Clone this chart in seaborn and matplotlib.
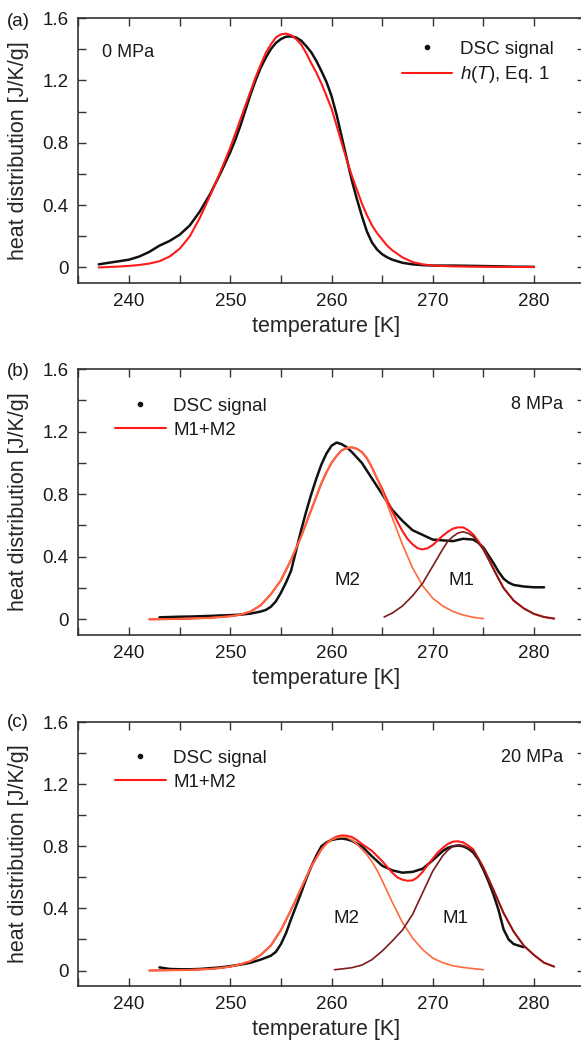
import pandas as pd
import seaborn as sns
import matplotlib.pyplot as plt
from matplotlib.lines import Line2D
from matplotlib.ticker import MultipleLocator, FuncFormatter

# ---- panel (a), 0 MPa ----
ta_dsc = [237, 238, 239, 240, 241, 242, 243, 244, 245, 246, 247, 248, 249, 249.5, 250, 250.5, 251, 251.5, 252,
          252.5, 253, 253.5, 254, 254.5, 255, 255.5, 256, 256.5, 257, 257.5, 258, 258.5, 259, 259.5, 260,
          260.5, 261, 261.5, 262, 262.5, 263, 263.5, 264, 264.5, 265, 265.5, 266, 267, 268, 269, 270, 272,
          274, 276, 278, 280]
dsc_a = [0.02, 0.03, 0.04, 0.05, 0.07, 0.10, 0.14, 0.17, 0.21, 0.27, 0.36, 0.47, 0.60, 0.67, 0.74, 0.82, 0.91,
         1.01, 1.11, 1.20, 1.28, 1.345, 1.40, 1.44, 1.465, 1.48, 1.482, 1.475, 1.455, 1.42, 1.38, 1.325, 1.26,
         1.19, 1.10, 0.98, 0.84, 0.70, 0.56, 0.44, 0.33, 0.23, 0.16, 0.115, 0.085, 0.065, 0.05, 0.03, 0.02,
         0.015, 0.012, 0.012, 0.01, 0.008, 0.005, 0.004]
ta_fit = [237, 238, 239, 240, 241, 242, 243, 244, 245, 246, 247, 248, 248.5, 249, 249.5, 250, 250.5, 251,
          251.5, 252, 252.5, 253, 253.5, 254, 254.5, 255, 255.5, 256, 256.5, 257, 257.5, 258, 258.5, 259,
          259.5, 260, 260.5, 261, 261.5, 262, 262.5, 263, 263.5, 264, 264.5, 265, 265.5, 266, 267, 268, 269,
          270, 272, 274, 276, 278, 280]
fit_a = [0.0, 0.003, 0.006, 0.01, 0.016, 0.025, 0.04, 0.07, 0.12, 0.20, 0.32, 0.46, 0.535, 0.61, 0.69, 0.77,
         0.86, 0.95, 1.04, 1.13, 1.22, 1.30, 1.375, 1.43, 1.475, 1.495, 1.50, 1.49, 1.465, 1.43, 1.375, 1.31,
         1.25, 1.18, 1.10, 1.02, 0.91, 0.80, 0.69, 0.59, 0.50, 0.41, 0.335, 0.27, 0.22, 0.18, 0.14, 0.11,
         0.065, 0.035, 0.02, 0.012, 0.007, 0.005, 0.004, 0.003, 0.003]

# ---- panel (b), 8 MPa ----
tb_dsc = [243, 244, 245, 246, 247, 248, 249, 250, 251, 252, 253, 253.5, 254, 254.5, 255, 255.5, 256, 256.5,
          257, 257.5, 258, 258.5, 259, 259.5, 260, 260.5, 261, 261.5, 262, 263, 264, 265, 266, 267, 268, 269,
          270, 271, 272, 273, 274, 274.5, 275, 275.5, 276, 276.5, 277, 277.5, 278, 279, 280, 281]
dsc_b = [0.013, 0.015, 0.017, 0.018, 0.02, 0.022, 0.025, 0.027, 0.03, 0.037, 0.05, 0.06, 0.08, 0.115, 0.17,
         0.235, 0.31, 0.44, 0.57, 0.69, 0.80, 0.90, 0.99, 1.06, 1.11, 1.13, 1.12, 1.10, 1.07, 1.00, 0.90, 0.80,
         0.70, 0.63, 0.57, 0.54, 0.51, 0.505, 0.50, 0.515, 0.51, 0.49, 0.46, 0.41, 0.36, 0.305, 0.26, 0.235,
         0.22, 0.21, 0.205, 0.205]
tb_m2 = [242, 244, 246, 248, 249, 250, 251, 252, 253, 254, 255, 256, 257, 258, 259, 259.5, 260, 260.5, 261,
         261.5, 262, 262.5, 263, 263.5, 264, 264.5, 265, 265.5, 266, 267, 268, 269, 270, 271, 272, 273, 274, 275]
m2_b = [0.0, 0.002, 0.005, 0.01, 0.015, 0.02, 0.03, 0.05, 0.09, 0.16, 0.25, 0.38, 0.53, 0.70, 0.87, 0.94, 1.00,
        1.045, 1.08, 1.095, 1.10, 1.09, 1.07, 1.03, 0.97, 0.90, 0.82, 0.735, 0.65, 0.48, 0.33, 0.215, 0.135,
        0.085, 0.05, 0.028, 0.013, 0.005]
tb_m1 = [265.2, 266, 267, 268, 269, 270, 270.5, 271, 271.5, 272, 272.5, 273, 273.5, 274, 274.5, 275, 275.5,
         276, 276.5, 277, 277.5, 278, 279, 280, 281, 282]
m1_b = [0.015, 0.04, 0.085, 0.15, 0.23, 0.34, 0.395, 0.45, 0.50, 0.53, 0.552, 0.56, 0.55, 0.53, 0.49, 0.445,
        0.385, 0.32, 0.26, 0.20, 0.16, 0.12, 0.07, 0.035, 0.015, 0.005]
tb_sum = [242, 244, 246, 248, 249, 250, 251, 252, 253, 254, 255, 256, 257, 258, 259, 259.5, 260, 260.5, 261,
          261.5, 262, 262.5, 263, 263.5, 264, 264.5, 265, 265.5, 266, 266.5, 267, 267.5, 268, 268.5, 269,
          269.5, 270, 270.5, 271, 271.5, 272, 272.5, 273, 273.5, 274, 274.5, 275, 275.5, 276, 276.5, 277,
          277.5, 278, 279, 280, 281, 282]
sum_b = [0.0, 0.002, 0.005, 0.01, 0.015, 0.02, 0.03, 0.05, 0.09, 0.16, 0.25, 0.38, 0.53, 0.70, 0.87, 0.94, 1.00,
         1.045, 1.08, 1.095, 1.10, 1.09, 1.07, 1.03, 0.97, 0.90, 0.835, 0.76, 0.69, 0.625, 0.565, 0.515, 0.48,
         0.455, 0.447, 0.455, 0.475, 0.505, 0.535, 0.56, 0.58, 0.588, 0.588, 0.57, 0.543, 0.50, 0.45, 0.39,
         0.325, 0.26, 0.20, 0.16, 0.12, 0.07, 0.035, 0.015, 0.005]

# ---- panel (c), 20 MPa ----
tc_dsc = [243, 244, 245, 246, 247, 248, 249, 250, 251, 252, 253, 254, 254.5, 255, 255.5, 256, 256.5, 257,
          257.5, 258, 258.5, 259, 259.5, 260, 260.5, 261, 261.5, 262, 263, 264, 265, 266, 267, 268, 269, 270,
          271, 271.5, 272, 272.5, 273, 273.5, 274, 274.5, 275, 275.5, 276, 276.5, 277, 277.5, 278, 278.5, 279]
dsc_c = [0.02, 0.01, 0.008, 0.008, 0.01, 0.015, 0.02, 0.028, 0.038, 0.05, 0.07, 0.095, 0.12, 0.17, 0.24, 0.33,
         0.415, 0.50, 0.59, 0.67, 0.74, 0.80, 0.825, 0.84, 0.847, 0.85, 0.845, 0.835, 0.80, 0.735, 0.675,
         0.645, 0.63, 0.635, 0.655, 0.71, 0.77, 0.79, 0.80, 0.805, 0.80, 0.785, 0.76, 0.715, 0.65, 0.575,
         0.49, 0.39, 0.265, 0.20, 0.17, 0.16, 0.15]
tc_m2 = [242, 244, 246, 248, 249, 250, 251, 252, 253, 254, 255, 256, 257, 258, 259, 259.5, 260, 260.5, 261,
         261.5, 262, 262.5, 263, 263.5, 264, 264.5, 265, 265.5, 266, 267, 268, 269, 270, 271, 272, 273, 274, 275]
m2_c = [0.0, 0.002, 0.004, 0.01, 0.016, 0.025, 0.04, 0.06, 0.10, 0.16, 0.26, 0.39, 0.53, 0.67, 0.78, 0.815,
        0.84, 0.855, 0.86, 0.858, 0.84, 0.815, 0.78, 0.745, 0.70, 0.645, 0.58, 0.51, 0.44, 0.31, 0.21, 0.135,
        0.08, 0.05, 0.03, 0.02, 0.012, 0.005]
tc_m1 = [260.3, 261, 262, 263, 264, 265, 266, 267, 268, 269, 270, 271, 271.5, 272, 272.5, 273, 273.5, 274,
         274.5, 275, 276, 277, 278, 279, 280, 281, 282]
m1_c = [0.005, 0.01, 0.018, 0.035, 0.07, 0.125, 0.19, 0.26, 0.36, 0.50, 0.64, 0.74, 0.775, 0.80, 0.808, 0.805,
        0.79, 0.77, 0.72, 0.66, 0.52, 0.37, 0.25, 0.16, 0.10, 0.05, 0.025]
tc_sum = [242, 244, 246, 248, 249, 250, 251, 252, 253, 254, 255, 256, 257, 258, 259, 259.5, 260, 260.5, 261,
          261.5, 262, 262.5, 263, 264, 265, 266, 266.5, 267, 267.5, 268, 268.5, 269, 269.5, 270, 270.5, 271,
          271.5, 272, 272.5, 273, 273.5, 274, 275, 276, 277, 278, 279, 280, 281, 282]
sum_c = [0.0, 0.002, 0.004, 0.01, 0.016, 0.025, 0.04, 0.06, 0.10, 0.16, 0.26, 0.39, 0.53, 0.67, 0.78, 0.82,
         0.845, 0.862, 0.87, 0.868, 0.86, 0.84, 0.815, 0.77, 0.705, 0.63, 0.60, 0.585, 0.578, 0.58, 0.60,
         0.635, 0.68, 0.72, 0.76, 0.79, 0.815, 0.83, 0.832, 0.825, 0.805, 0.78, 0.665, 0.52, 0.37, 0.25, 0.16,
         0.10, 0.05, 0.025]

BLACK = "#111111"
RED = "#ff1a1a"
ORANGE = "#ff6a3d"
DARK = "#7b1c1c"

sns.set_theme(style="ticks")
plt.rcParams["font.family"] = ["Liberation Sans", "DejaVu Sans"]
plt.rcParams["mathtext.fontset"] = "custom"
plt.rcParams["mathtext.it"] = "Liberation Sans:italic"
plt.rcParams["mathtext.rm"] = "Liberation Sans"
plt.rcParams["text.color"] = "#1a1a1a"

fig = plt.figure(figsize=(5.81, 10.41), dpi=100)
ax_a = fig.add_axes([0.1351, 0.7281, 0.871, 0.2546])
ax_b = fig.add_axes([0.1351, 0.3900, 0.871, 0.2555])
ax_c = fig.add_axes([0.1351, 0.0528, 0.871, 0.2536])


def curve(ax, t, v, color, lw):
    df = pd.DataFrame({"T": t, "v": v})
    sns.lineplot(data=df, x="T", y="v", ax=ax, color=color, lw=lw, sort=False, estimator=None)


def style_axes(ax):
    ax.set_xlim(235, 285)
    ax.set_ylim(-0.1, 1.6)
    ax.xaxis.set_major_locator(MultipleLocator(10))
    ax.xaxis.set_minor_locator(MultipleLocator(5))
    ax.yaxis.set_major_locator(MultipleLocator(0.4))
    ax.yaxis.set_minor_locator(MultipleLocator(0.2))
    ax.yaxis.set_major_formatter(FuncFormatter(lambda v, _: "0" if abs(v) < 1e-9 else f"{v:.1f}"))
    ax.tick_params(which="both", direction="in", top=True, right=True, length=6, width=1,
                   color="#333333", labelsize=13.5, pad=7, labelcolor="#1a1a1a")
    for sp in ax.spines.values():
        sp.set_linewidth(1.2)
        sp.set_color("#333333")
    ax.set_xlabel("temperature [K]", fontsize=15.5)
    ax.set_ylabel("heat distribution [J/K/g]", fontsize=15.5)
    ax.xaxis.set_label_coords(0.49, -0.125)
    ax.yaxis.set_label_coords(-0.098, 0.5)


dot = Line2D([], [], marker="o", ms=3, ls="none", color=BLACK)

# (a)
curve(ax_a, ta_dsc, dsc_a, BLACK, 1.8)
curve(ax_a, ta_fit, fit_a, RED, 1.5)
style_axes(ax_a)
ax_a.text(0.046, 0.868, "0 MPa", transform=ax_a.transAxes, fontsize=13, va="center")
ax_a.legend(handles=[dot, Line2D([], [], color=RED, lw=1.5)],
            labels=["DSC signal", r"$\mathit{h(T)}$, Eq. 1"],
            loc="upper left", bbox_to_anchor=(0.639, 0.915), frameon=False, fontsize=13.5,
            handlelength=2.7, handletextpad=0.4, labelspacing=0.35, borderpad=0, borderaxespad=0)

# (b) - sum drawn first, the two components sit on top of it
curve(ax_b, tb_dsc, dsc_b, BLACK, 1.8)
curve(ax_b, tb_sum, sum_b, RED, 1.5)
curve(ax_b, tb_m2, m2_b, ORANGE, 1.2)
curve(ax_b, tb_m1, m1_b, DARK, 1.2)
style_axes(ax_b)
ax_b.text(0.957, 0.865, "8 MPa", transform=ax_b.transAxes, fontsize=13, va="center", ha="right")
ax_b.text(261.6, 0.25, "M2", fontsize=13.5, ha="center", va="center")
ax_b.text(272.8, 0.25, "M1", fontsize=13.5, ha="center", va="center")
ax_b.legend(handles=[dot, Line2D([], [], color=RED, lw=1.5)], labels=["DSC signal", "M1+M2"],
            loc="upper left", bbox_to_anchor=(0.072, 0.892), frameon=False, fontsize=13.5,
            handlelength=2.7, handletextpad=0.4, labelspacing=0.35, borderpad=0, borderaxespad=0)

# (c)
curve(ax_c, tc_dsc, dsc_c, BLACK, 1.8)
curve(ax_c, tc_sum, sum_c, RED, 1.5)
curve(ax_c, tc_m2, m2_c, ORANGE, 1.2)
curve(ax_c, tc_m1, m1_c, DARK, 1.2)
style_axes(ax_c)
ax_c.text(0.957, 0.867, "20 MPa", transform=ax_c.transAxes, fontsize=13, va="center", ha="right")
ax_c.text(261.5, 0.335, "M2", fontsize=13.5, ha="center", va="center")
ax_c.text(272.2, 0.335, "M1", fontsize=13.5, ha="center", va="center")
ax_c.legend(handles=[dot, Line2D([], [], color=RED, lw=1.5)], labels=["DSC signal", "M1+M2"],
            loc="upper left", bbox_to_anchor=(0.072, 0.895), frameon=False, fontsize=13.5,
            handlelength=2.7, handletextpad=0.4, labelspacing=0.35, borderpad=0, borderaxespad=0)

for lab, y in [("(a)", 0.979), ("(b)", 0.6427), ("(c)", 0.3055)]:
    fig.text(0.012, y, lab, fontsize=13.5, va="center", ha="left")

fig.savefig("out.png", dpi=100)
